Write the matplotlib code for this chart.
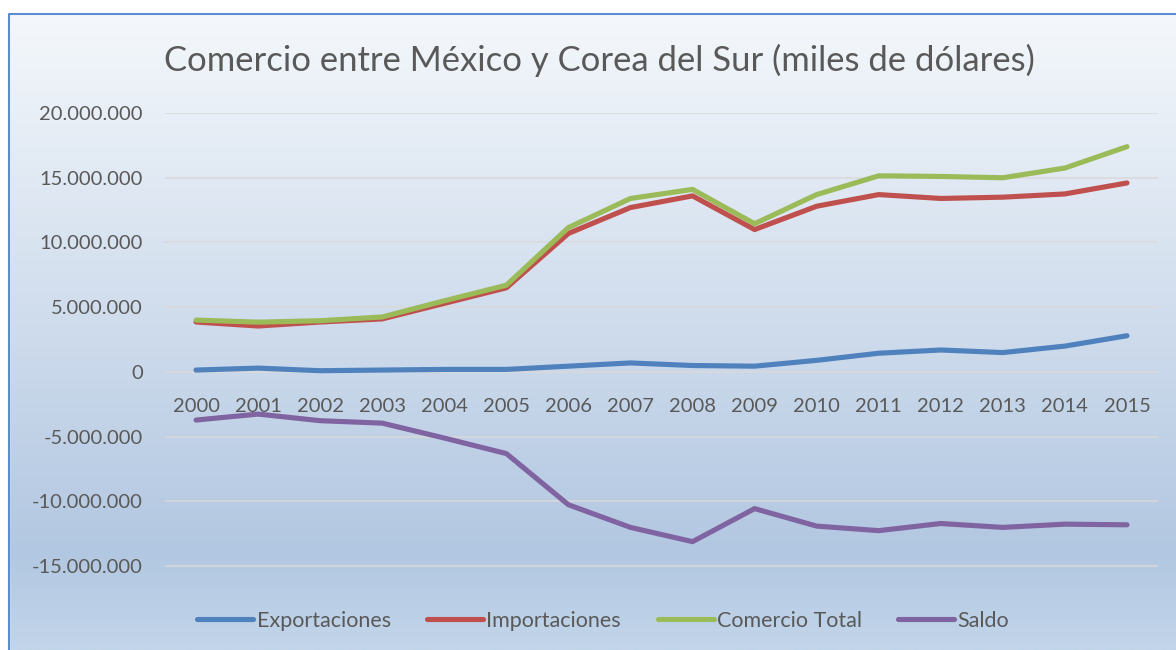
# Comercio entre Mexico y Corea del Sur
import matplotlib.pyplot as plt
import matplotlib.patches as mpatches
import numpy as np
from matplotlib.colors import LinearSegmentedColormap
from matplotlib.ticker import FuncFormatter

# datos (miles de dolares)
anios = [str(a) for a in range(2000, 2016)]
exportaciones = [150000, 300000, 100000, 150000, 200000, 200000, 450000, 700000,
                 500000, 450000, 900000, 1450000, 1700000, 1500000, 2000000, 2800000]
importaciones = [3860000, 3550000, 3860000, 4100000, 5300000, 6500000, 10700000, 12700000,
                 13600000, 11000000, 12800000, 13700000, 13400000, 13500000, 13750000, 14600000]
comercio_total = [4010000, 3850000, 3960000, 4250000, 5500000, 6700000, 11150000, 13400000,
                  14100000, 11450000, 13700000, 15150000, 15100000, 15000000, 15750000, 17400000]
saldo = [-3710000, -3250000, -3760000, -3950000, -5100000, -6300000, -10250000, -12000000,
         -13100000, -10550000, -11900000, -12250000, -11700000, -12000000, -11750000, -11800000]

series = [exportaciones, importaciones, comercio_total, saldo]
nombres = ['Exportaciones', 'Importaciones', 'Comercio Total', 'Saldo']
cores = ['#4F81BD', '#C0504D', '#9BBB59', '#8064A2']

fuente = ['Lato', 'DejaVu Sans']
gris = '#595959'
plt.rcParams['font.family'] = fuente

fig = plt.figure(figsize=(11.76, 6.5), dpi=100)

# fundo degrade
bg = fig.add_axes([0, 0, 1, 1], zorder=-10)
cmap = LinearSegmentedColormap.from_list('fundo', [
    (0.0, '#f6f9fc'), (0.45, '#d3dfee'), (0.85, '#b2c7e1'), (1.0, '#c2d5ea')])
grad = np.linspace(0, 1, 256).reshape(-1, 1)
bg.imshow(grad, aspect='auto', cmap=cmap, extent=[0, 1, 0, 1], origin='upper')
bg.set_xlim(0, 1)
bg.set_ylim(0, 1)
bg.axis('off')
# area branca fora do grafico
bg.add_patch(mpatches.Rectangle((0, 1 - 14 / 650), 1, 14 / 650, color='white', zorder=2))
bg.add_patch(mpatches.Rectangle((0, 0), 9 / 1176, 1, color='white', zorder=2))
bg.plot([9 / 1176, 9 / 1176, 1.01], [-0.01, 1 - 14 / 650, 1 - 14 / 650],
        color='#5b8bd0', lw=1.5, zorder=3)

ax = fig.add_axes([165 / 1176, 1 - 631 / 650, (1158 - 165) / 1176, (631 - 113) / 650])
ax.set_facecolor('none')

x = np.arange(len(anios))
for i in range(len(series)):
    ax.plot(x, series[i], color=cores[i], lw=3.7, label=nombres[i],
            solid_capstyle='round', solid_joinstyle='round', zorder=3)

ax.set_xlim(-0.5, len(anios) - 0.5)
ax.set_ylim(-20000000, 20000000)
yt = np.arange(-15000000, 20000001, 5000000)
ax.set_yticks(yt)
ax.yaxis.set_major_formatter(FuncFormatter(lambda v, p: '{:,.0f}'.format(v).replace(',', '.')))
ax.grid(axis='y', color='#d9d9d9', lw=1.1, zorder=1)
ax.set_axisbelow(True)
for s in ax.spines.values():
    s.set_visible(False)
ax.spines['bottom'].set_position(('data', 0))
ax.set_xticks(x)
ax.set_xticklabels(anios)
ax.tick_params(axis='both', length=0, labelsize=14.5, colors=gris)
ax.tick_params(axis='x', pad=19)
ax.tick_params(axis='y', pad=16)

fig.text(0.510, 1 - 60 / 650, 'Comercio entre México y Corea del Sur (miles de dólares)',
         ha='center', va='center', fontsize=24.9, color=gris)

leg = fig.legend(loc='center', bbox_to_anchor=(0.513, 1 - 621 / 650), ncol=4, frameon=False,
                 fontsize=15.5, handlelength=2.6, handletextpad=0.15, columnspacing=1.7)
for t in leg.get_texts():
    t.set_color(gris)

fig.savefig('out.png', dpi=100)
